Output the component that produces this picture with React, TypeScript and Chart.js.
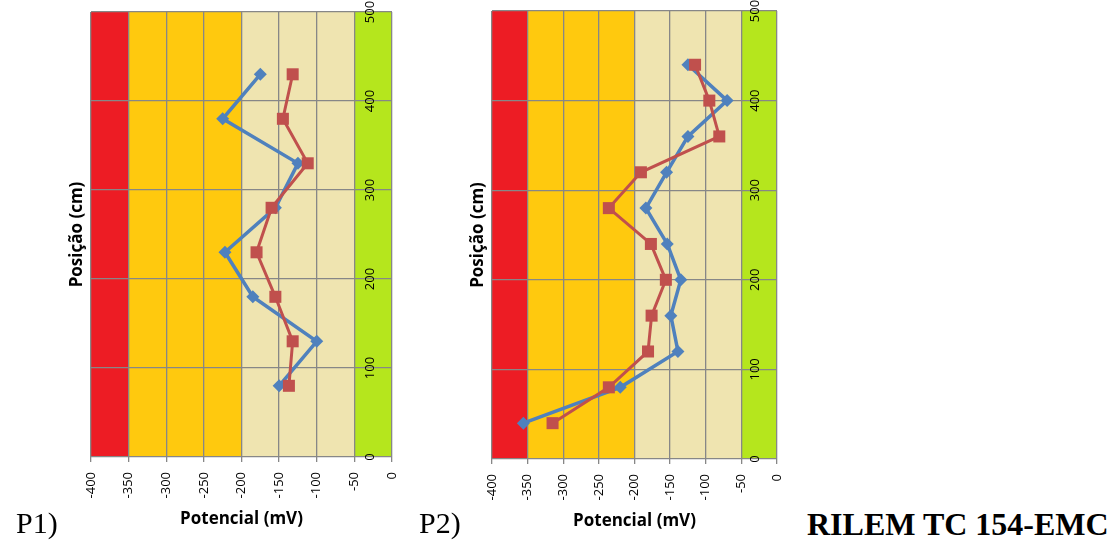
import React, { useEffect, useRef } from "react";
import { Chart, registerables } from "chart.js";

Chart.register(...registerables);

// ---------- data ----------
const xTickMin = -400;
const xTickMax = 0;
const xTickStep = 50;
const yTickMin = 0;
const yTickMax = 500;
const yTickStep = 100;

const bandLimits = [-400, -350, -200, -50, 0];
const bandColors = ["#ED1C24", "#FFC90E", "#EFE4B0", "#B5E61D"];

const xTitle = "Potencial (mV)";
const yTitle = "Posição (cm)";

const p1Positions = [80, 130, 180, 230, 280, 330, 380, 430];
const p1Blue = [-150, -100, -185, -222, -155, -125, -225, -175];
const p1Red = [-137, -132, -155, -180, -160, -112, -145, -132];

const p2Positions = [40, 80, 120, 160, 200, 240, 280, 320, 360, 400, 440];
const p2Blue = [-356, -220, -139, -149, -135, -154, -184, -155, -125, -70, -125];
const p2Red = [-315, -236, -181, -176, -156, -177, -236, -191, -81, -95, -115];

const blueColor = "#4F81BD";
const redColor = "#C0504D";
const gridColor = "#878787";

// ---------- plugins ----------
const bandsPlugin = {
  id: "bands",
  beforeDraw(chart: any) {
    const { ctx, chartArea: a, scales } = chart;
    const x = scales.x;
    ctx.save();
    for (let i = 0; i < bandColors.length; i++) {
      const x0 = x.getPixelForValue(bandLimits[i]);
      const x1 = x.getPixelForValue(bandLimits[i + 1]);
      ctx.fillStyle = bandColors[i];
      ctx.fillRect(x0, a.top, x1 - x0, a.bottom - a.top);
    }
    ctx.restore();
  },
};

const labelsPlugin = {
  id: "rotLabels",
  afterDraw(chart: any) {
    const { ctx, chartArea: a, scales } = chart;
    const x = scales.x;
    const y = scales.y;
    ctx.save();
    ctx.fillStyle = "#000";
    ctx.font = '13px "Open Sans"';
    // x tick labels, rotated (bottom to top), top-aligned under the axis
    x.ticks.forEach((t: any) => {
      const px = x.getPixelForValue(t.value);
      ctx.save();
      ctx.translate(px, a.bottom + 15);
      ctx.rotate(-Math.PI / 2);
      ctx.textAlign = "right";
      ctx.textBaseline = "middle";
      ctx.fillText(String(t.label), 0, 0);
      ctx.restore();
    });
    // y tick labels, rotated, inside the right band
    y.ticks.forEach((t: any) => {
      const py = y.getPixelForValue(t.value);
      ctx.save();
      ctx.translate(a.right - 22, py);
      ctx.rotate(-Math.PI / 2);
      ctx.textAlign = "center";
      ctx.textBaseline = "middle";
      ctx.fillText(String(t.label), 0, 0);
      ctx.restore();
    });
    ctx.fillStyle = "#000";
    ctx.font = 'bold 17px "Open Sans"';
    // x title
    ctx.textAlign = "center";
    ctx.textBaseline = "middle";
    ctx.fillText(xTitle, (a.left + a.right) / 2, a.bottom + 62);
    // y title
    ctx.save();
    ctx.translate(a.left - 14, (a.top + a.bottom) / 2);
    ctx.rotate(-Math.PI / 2);
    ctx.fillText(yTitle, 0, 0);
    ctx.restore();
    ctx.restore();
  },
};

type Props = {
  positions: number[];
  blue: number[];
  red: number[];
  left: number;
  width: number;
  height: number;
  padding: { left: number; right: number; top: number; bottom: number };
};

function PotentialChart({ positions, blue, red, left, width, height, padding }: Props) {
  const ref = useRef<HTMLCanvasElement | null>(null);
  useEffect(() => {
    if (!ref.current) return;
    const chart = new Chart(ref.current, {
      type: "scatter",
      data: {
        datasets: [
          {
            label: "red",
            data: positions.map((p, i) => ({ x: red[i], y: p })),
            showLine: true,
            borderColor: redColor,
            backgroundColor: redColor,
            borderWidth: 3,
            pointStyle: "rect",
            pointRadius: 8.5,
            pointBorderWidth: 0,
            pointBackgroundColor: redColor,
            tension: 0,
          },
          {
            label: "blue",
            data: positions.map((p, i) => ({ x: blue[i], y: p })),
            showLine: true,
            borderColor: blueColor,
            backgroundColor: blueColor,
            borderWidth: 3.5,
            pointStyle: "rectRot",
            pointRadius: 6.5,
            pointBorderWidth: 0,
            pointBackgroundColor: blueColor,
            tension: 0,
          },
        ],
      },
      options: {
        responsive: false,
        maintainAspectRatio: false,
        animation: false,
        layout: { padding },
        plugins: {
          legend: { display: false },
          tooltip: { enabled: false },
          title: { display: false },
        },
        scales: {
          x: {
            type: "linear",
            position: "bottom",
            min: xTickMin,
            max: xTickMax,
            ticks: { stepSize: xTickStep, display: false },
            grid: { color: gridColor, lineWidth: 1.3, drawTicks: true, tickLength: 5 },
            border: { display: false },
            afterFit: (s: any) => {
              s.height = 0;
            },
          },
          y: {
            type: "linear",
            position: "right",
            min: yTickMin,
            max: yTickMax,
            ticks: { stepSize: yTickStep, display: false },
            grid: { color: gridColor, lineWidth: 1.3, drawTicks: false },
            border: { display: false },
            afterFit: (s: any) => {
              s.width = 0;
            },
          },
        },
      } as any,
      plugins: [bandsPlugin, labelsPlugin],
    });
    return () => chart.destroy();
  }, []);
  return (
    <canvas
      ref={ref}
      width={width}
      height={height}
      style={{ position: "absolute", left, top: 0, width, height }}
    />
  );
}

const serif = '"Liberation Serif", "Times New Roman", serif';

export default function App() {
  return (
    <div
      style={{
        position: "absolute",
        left: 0,
        top: 0,
        width: 1113,
        height: 546,
        overflow: "hidden",
        background: "#fff",
      }}
    >
      <PotentialChart
        positions={p1Positions}
        blue={p1Blue}
        red={p1Red}
        left={0}
        width={430}
        height={546}
        padding={{ left: 91, right: 38, top: 12, bottom: 89 }}
      />
      <PotentialChart
        positions={p2Positions}
        blue={p2Blue}
        red={p2Red}
        left={430}
        width={370}
        height={546}
        padding={{ left: 62, right: 23, top: 11, bottom: 87 }}
      />
      <div
        style={{
          position: "absolute",
          left: 16,
          top: 508,
          fontFamily: serif,
          fontSize: 30,
          lineHeight: "30px",
          whiteSpace: "nowrap",
        }}
      >
        P1)
      </div>
      <div
        style={{
          position: "absolute",
          left: 419,
          top: 508,
          fontFamily: serif,
          fontSize: 30,
          lineHeight: "30px",
          whiteSpace: "nowrap",
        }}
      >
        P2)
      </div>
      <div
        style={{
          position: "absolute",
          left: 807,
          top: 508,
          fontFamily: serif,
          fontSize: 32,
          lineHeight: "32px",
          fontWeight: "bold",
          whiteSpace: "nowrap",
        }}
      >
        RILEM TC 154-EMC
      </div>
    </div>
  );
}
